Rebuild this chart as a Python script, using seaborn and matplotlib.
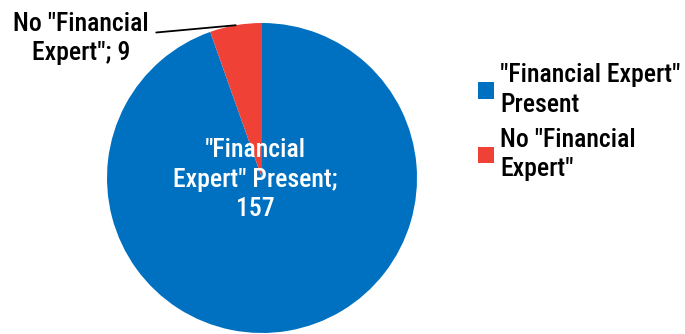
import numpy as np
import matplotlib
matplotlib.use("Agg")
import matplotlib.pyplot as plt
import seaborn as sns

categories = ['"Financial Expert"\nPresent', 'No "Financial\nExpert"']
values = [157, 9]
inner_labels = ['"Financial\nExpert" Present;\n157', 'No "Financial\nExpert"; 9']
colors = ["#0070C0", "#EF4136"]

sns.set_theme(style="white")
plt.rcParams['font.family'] = ['Roboto Condensed', 'Liberation Sans Narrow', 'Arial Narrow',
                               'Liberation Sans', 'DejaVu Sans']
plt.rcParams['text.color'] = 'black'
plt.rcParams['font.weight'] = 500

W, H = 685, 334
fig = plt.figure(figsize=(W / 100, H / 100), dpi=100)
cx, cy, r = 262, 178, 155
ax = fig.add_axes([(cx - r) / W, (H - cy - r) / H, 2 * r / W, 2 * r / H])

wedges, _ = ax.pie(values, colors=colors, startangle=90, counterclock=False,
                   radius=1.0, wedgeprops=dict(linewidth=0))
ax.set_xlim(-1, 1)
ax.set_ylim(-1, 1)
ax.set_aspect('equal')
ax.axis('off')

fs = 18.5
ls = 1.28
# inside label for large slice
ax.text(-0.045, -0.01, inner_labels[0], ha='center', va='center', color='white',
        fontsize=fs, linespacing=ls)

# outside label for small slice with leader line
mid = np.deg2rad(90 + 360 * values[1] / sum(values) / 2)
ax.annotate(inner_labels[1], xy=(np.cos(mid), np.sin(mid)),
            xytext=(81 / W, 1 - 38.5 / H), textcoords='figure fraction',
            ha='center', va='center', fontsize=fs, color='black', linespacing=ls,
            arrowprops=dict(arrowstyle='-', color='black', lw=1.3,
                            relpos=(1.0, 0.6), shrinkA=3, shrinkB=0))

leg = fig.legend(wedges, categories, loc='upper left',
                 bbox_to_anchor=(468 / W, 1 - 53 / H), frameon=False,
                 fontsize=fs, handlelength=0.6, handleheight=0.6,
                 handletextpad=0.25, labelspacing=0.45, borderaxespad=0)
for t in leg.get_texts():
    t.set_linespacing(ls)

fig.savefig("out.png", dpi=100)
